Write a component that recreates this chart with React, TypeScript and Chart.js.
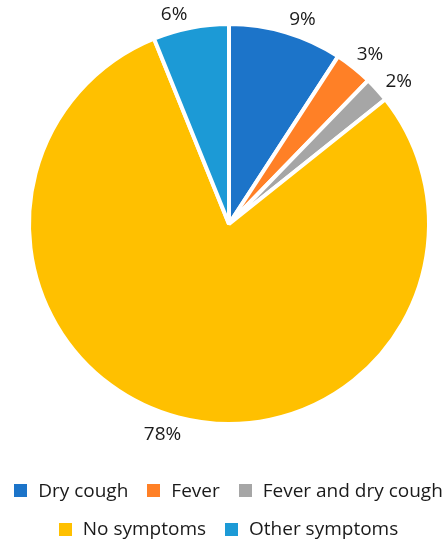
import { useEffect, useRef } from "react";
import { Chart, registerables } from "chart.js";

Chart.register(...registerables);

const categories = ["Dry cough", "Fever", "Fever and dry cough", "No symptoms", "Other symptoms"];
const shares = [9, 3, 2, 78, 6];
const sliceColors = ["#1C74C9", "#FF8026", "#A6A6A6", "#FFC000", "#1C9AD6"];
// small angular shifts (degrees) that keep the outside labels clear of each other
const labelAngleShift = [3.1, 1.0, 2.1, 2.9, -3.6];
// which categories go on each legend row
const legendRows = [
  [0, 1, 2],
  [3, 4],
];

const FONT = '"Open Sans", "DejaVu Sans", sans-serif';
const FONT_SIZE = 19;
const TEXT_COLOR = "#1a1a1a";

// Percent labels placed just outside the rim, with the text box pushed out
// so its nearest edge sits a fixed distance from the slice.
const outsideLabels = {
  id: "outsideLabels",
  afterDatasetsDraw(chart: any) {
    const meta = chart.getDatasetMeta(0);
    const ctx = chart.ctx as CanvasRenderingContext2D;
    ctx.save();
    ctx.font = `${FONT_SIZE}px ${FONT}`;
    ctx.fillStyle = TEXT_COLOR;
    ctx.textAlign = "center";
    ctx.textBaseline = "middle";
    meta.data.forEach((arc: any, i: number) => {
      const { x, y, startAngle, endAngle, outerRadius } = arc.getProps(
        ["x", "y", "startAngle", "endAngle", "outerRadius"],
        true
      );
      const text = `${shares[i]}%`;
      const w = ctx.measureText(text).width;
      const h = 15;
      const mid = (startAngle + endAngle) / 2 + (labelAngleShift[i] * Math.PI) / 180;
      const c = Math.cos(mid);
      const s = Math.sin(mid);
      const r = outerRadius + 7 + (w / 2) * Math.abs(c) + (h / 2) * Math.abs(s);
      ctx.fillText(text, x + c * r, y + s * r + 1);
    });
    ctx.restore();
  },
};

const bottomLegend = {
  id: "bottomLegend",
  afterDraw(chart: any) {
    const ctx = chart.ctx as CanvasRenderingContext2D;
    const labels: string[] = chart.data.labels;
    const colors: string[] = chart.data.datasets[0].backgroundColor;
    const box = 13;
    const textGap = 11;
    const itemGap = 19;
    const rowY = [490.5, 529];
    const centerX = 228.5;
    ctx.save();
    ctx.font = `${FONT_SIZE}px ${FONT}`;
    ctx.textBaseline = "middle";
    ctx.textAlign = "left";
    legendRows.forEach((row, r) => {
      const widths = row.map((i) => box + textGap + ctx.measureText(labels[i]).width);
      const total = widths.reduce((a, b) => a + b, 0) + itemGap * (row.length - 1);
      let x = centerX - total / 2;
      row.forEach((i, k) => {
        ctx.fillStyle = colors[i];
        ctx.fillRect(Math.round(x), Math.round(rowY[r] - box / 2), box, box);
        ctx.fillStyle = TEXT_COLOR;
        ctx.fillText(labels[i], x + box + textGap, rowY[r] + 1);
        x += widths[k] + itemGap;
      });
    });
    ctx.restore();
  },
};

export default function App() {
  const canvasRef = useRef<HTMLCanvasElement | null>(null);

  useEffect(() => {
    if (!canvasRef.current) return;
    const chart = new Chart(canvasRef.current, {
      type: "pie",
      data: {
        labels: categories,
        datasets: [
          {
            data: shares,
            backgroundColor: sliceColors,
            borderColor: "#ffffff",
            borderWidth: 4,
            hoverOffset: 0,
          },
        ],
      },
      options: {
        responsive: false,
        animation: false,
        layout: { padding: { left: 27, right: 17, top: 22, bottom: 116 } },
        plugins: {
          legend: { display: false },
          tooltip: { enabled: false },
        },
      },
      plugins: [outsideLabels, bottomLegend],
    });
    return () => chart.destroy();
  }, []);

  return (
    <div style={{ position: "absolute", left: 0, top: 0, width: 448, height: 542, background: "#fff" }}>
      <canvas ref={canvasRef} width={448} height={542} style={{ display: "block" }} />
    </div>
  );
}
